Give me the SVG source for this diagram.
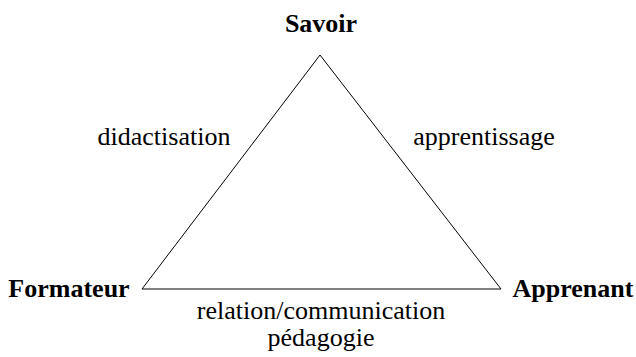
<svg xmlns="http://www.w3.org/2000/svg" width="636" height="357" viewBox="0 0 636 357">
  <style>
    .t { font-family: 'Liberation Serif', 'DejaVu Serif', serif; font-size: 26px; fill: #000; text-anchor: middle; }
    .b { font-weight: bold; }
    .edge { fill: none; stroke: #000; stroke-width: 1; }
  </style>
  <rect width="636" height="357" fill="#fff"/>
  <g id="connectors">
    <line class="edge" x1="320" y1="55" x2="142" y2="289"/>
    <line class="edge" x1="320" y1="55" x2="501" y2="289"/>
    <line class="edge" x1="142" y1="289" x2="501" y2="289"/>
  </g>
  <g id="savoir"><text class="t b" x="321" y="32">Savoir</text></g>
  <g id="formateur"><text class="t b" x="69" y="297">Formateur</text></g>
  <g id="apprenant"><text class="t b" x="573" y="297">Apprenant</text></g>
  <g id="labels">
    <text class="t" x="164" y="145">didactisation</text>
    <text class="t" x="484" y="145">apprentissage</text>
    <text class="t" x="321" y="319">relation/communication</text>
    <text class="t" x="321" y="346">pédagogie</text>
  </g>
</svg>
